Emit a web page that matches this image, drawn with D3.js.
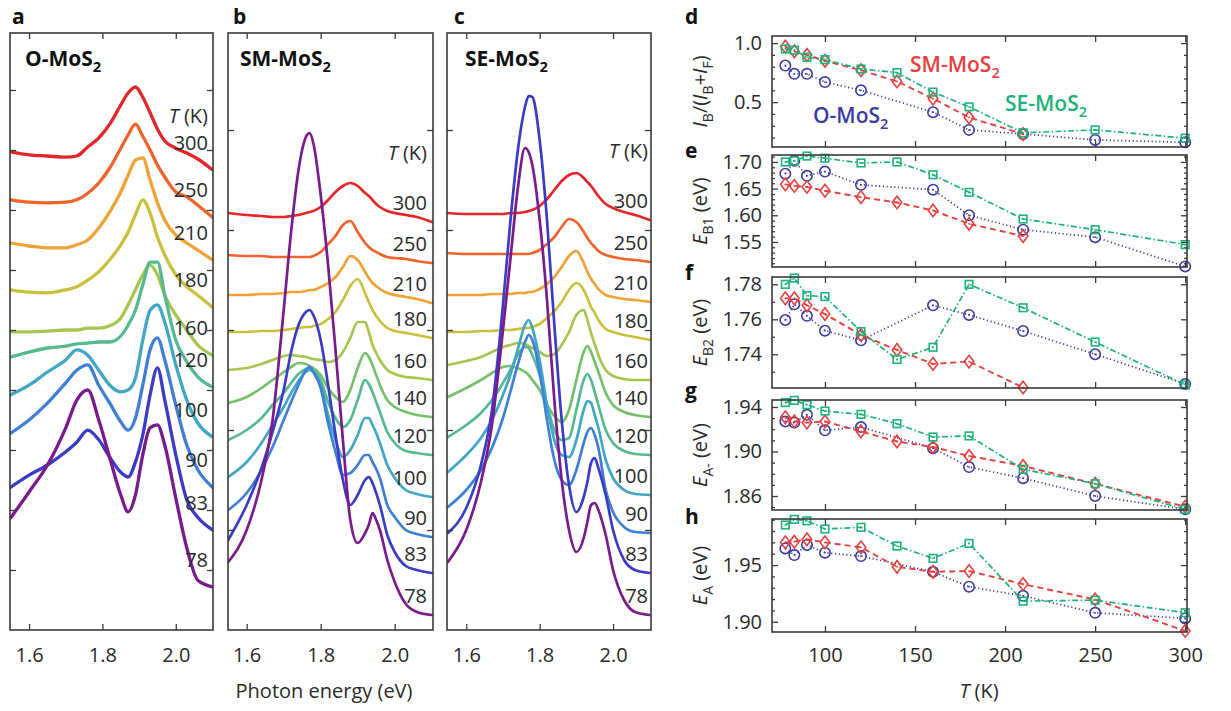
<!DOCTYPE html>
<html>
<head>
<meta charset="utf-8">
<script src="https://cdn.jsdelivr.net/npm/d3@7"></script>
<style>
  body { margin: 0; background: #fff; }
  svg { display: block; }
</style>
</head>
<body>
<svg id="fig" width="1231" height="711"></svg>
<script>
// ---------------- PL spectra (normalized, vertically offset) ----------------
const energyA = [1.55,1.60,1.65,1.70,1.73,1.76,1.79,1.82,1.85,1.87,1.89,1.91,1.93,1.95,1.97,2.00,2.03,2.06,2.10];
const tempsA = [300,250,210,180,160,120,100,90,83,78];
const spectraA = [
  [7.97,7.92,7.90,7.88,7.90,8.05,8.20,8.43,8.75,8.95,9.05,8.88,8.62,8.35,8.15,8.03,7.95,7.85,7.67],
  [7.17,7.13,7.12,7.13,7.17,7.28,7.45,7.70,8.03,8.25,8.43,8.23,8.00,7.75,7.55,7.30,7.22,7.08,6.88],
  [6.45,6.40,6.37,6.37,6.42,6.50,6.70,6.97,7.30,7.58,7.83,7.87,7.50,7.12,6.83,6.58,6.45,6.33,6.17],
  [5.67,5.63,5.62,5.67,5.72,5.83,5.97,6.17,6.42,6.63,6.92,7.17,6.95,6.55,6.25,5.92,5.72,5.58,5.38],
  [4.97,4.97,4.98,5.00,5.00,5.03,5.03,5.07,5.20,5.42,5.67,5.92,6.08,5.92,5.58,5.25,5.00,4.75,4.58],
  [4.55,4.63,4.70,4.73,4.77,4.78,4.80,4.80,4.90,5.08,5.33,5.75,6.13,6.13,5.58,4.83,4.47,4.22,4.05],
  [3.92,4.08,4.30,4.50,4.67,4.58,4.33,4.08,3.97,4.00,4.20,4.83,5.33,5.42,5.13,4.42,3.83,3.45,3.22],
  [3.28,3.50,3.78,4.12,4.33,4.42,4.08,3.78,3.47,3.33,3.53,4.08,4.67,4.87,4.50,3.75,3.08,2.67,2.38],
  [2.38,2.58,2.75,2.97,3.13,3.33,3.17,2.88,2.63,2.55,2.80,3.25,3.92,4.37,3.83,2.92,2.17,1.88,1.67],
  [1.87,2.30,2.75,3.37,3.83,4.00,3.50,2.87,2.25,1.97,2.25,2.92,3.37,3.42,3.08,2.20,1.37,0.83,0.72]
];

const energyBC = [1.55,1.60,1.64,1.67,1.70,1.72,1.74,1.76,1.77,1.78,1.80,1.82,1.84,1.86,1.88,1.90,1.92,1.93,1.94,1.95,1.96,1.98,2.00,2.03,2.06,2.10];
const tempsBC = [300,250,210,180,160,140,120,100,90,83,78];
const spectraB = [
  [4.17,4.15,4.14,4.13,4.13,4.14,4.15,4.17,4.18,4.19,4.23,4.30,4.38,4.44,4.47,4.44,4.37,4.34,4.30,4.26,4.23,4.19,4.17,4.15,4.13,4.08],
  [3.75,3.74,3.74,3.73,3.73,3.73,3.73,3.73,3.73,3.74,3.78,3.86,3.94,4.05,4.09,3.98,3.87,3.83,3.80,3.78,3.76,3.73,3.72,3.71,3.69,3.67],
  [3.35,3.35,3.36,3.36,3.37,3.38,3.38,3.39,3.40,3.40,3.43,3.47,3.53,3.63,3.74,3.70,3.58,3.52,3.47,3.44,3.41,3.37,3.35,3.33,3.31,3.27],
  [2.98,2.98,2.99,2.99,3.00,3.01,3.02,3.03,3.03,3.04,3.06,3.11,3.18,3.30,3.44,3.51,3.37,3.28,3.20,3.14,3.09,3.02,2.99,2.97,2.95,2.92],
  [2.60,2.62,2.66,2.70,2.74,2.75,2.74,2.73,2.72,2.71,2.70,2.68,2.70,2.78,2.92,3.08,3.08,2.98,2.85,2.77,2.70,2.60,2.56,2.53,2.52,2.50],
  [2.27,2.33,2.42,2.50,2.58,2.63,2.67,2.66,2.64,2.62,2.55,2.42,2.33,2.28,2.40,2.62,2.77,2.73,2.65,2.55,2.45,2.30,2.23,2.18,2.15,2.13],
  [1.90,2.00,2.12,2.25,2.37,2.47,2.56,2.61,2.62,2.60,2.50,2.28,2.12,2.03,2.10,2.30,2.50,2.46,2.38,2.28,2.18,1.98,1.87,1.79,1.77,1.75],
  [1.53,1.68,1.87,2.05,2.23,2.37,2.49,2.58,2.60,2.58,2.45,2.15,1.90,1.73,1.80,1.95,2.12,2.12,2.05,1.97,1.87,1.65,1.52,1.40,1.36,1.33],
  [1.20,1.37,1.60,1.83,2.10,2.28,2.45,2.60,2.63,2.58,2.42,2.07,1.78,1.55,1.57,1.65,1.75,1.75,1.68,1.61,1.52,1.25,1.13,1.00,0.96,0.93],
  [0.90,1.25,1.62,1.98,2.40,2.78,3.05,3.18,3.20,3.15,2.90,2.45,1.95,1.50,1.25,1.35,1.50,1.53,1.47,1.37,1.25,0.95,0.78,0.64,0.60,0.57],
  [0.68,1.00,1.50,2.10,3.20,3.98,4.60,4.93,4.97,4.87,4.35,3.65,2.80,1.90,1.10,0.87,0.97,1.05,1.17,1.10,1.00,0.70,0.48,0.26,0.18,0.15]
];
const spectraC = [
  [4.17,4.16,4.16,4.16,4.16,4.17,4.17,4.18,4.19,4.20,4.24,4.31,4.40,4.49,4.55,4.57,4.52,4.48,4.44,4.39,4.34,4.26,4.22,4.18,4.15,4.10],
  [3.77,3.76,3.76,3.76,3.76,3.76,3.76,3.76,3.76,3.77,3.80,3.86,3.93,4.03,4.11,4.08,3.98,3.92,3.87,3.83,3.79,3.75,3.73,3.71,3.70,3.68],
  [3.35,3.35,3.35,3.36,3.36,3.36,3.37,3.37,3.38,3.38,3.41,3.46,3.53,3.63,3.74,3.79,3.67,3.58,3.51,3.46,3.41,3.35,3.33,3.31,3.30,3.28],
  [2.98,2.98,2.99,2.99,3.00,3.00,3.01,3.02,3.02,3.03,3.06,3.12,3.19,3.28,3.40,3.47,3.40,3.32,3.23,3.17,3.10,3.01,2.98,2.95,2.93,2.90],
  [2.65,2.69,2.73,2.78,2.83,2.85,2.87,2.86,2.84,2.82,2.78,2.74,2.76,2.85,2.98,3.15,3.20,3.10,2.97,2.86,2.75,2.60,2.54,2.51,2.50,2.50],
  [2.33,2.42,2.50,2.57,2.63,2.64,2.62,2.58,2.55,2.50,2.40,2.25,2.14,2.08,2.20,2.50,2.78,2.84,2.78,2.68,2.58,2.37,2.25,2.18,2.15,2.13],
  [1.93,2.05,2.17,2.30,2.47,2.60,2.75,2.83,2.82,2.75,2.55,2.25,2.00,1.90,1.92,2.20,2.50,2.56,2.50,2.38,2.25,2.00,1.87,1.79,1.76,1.75],
  [1.58,1.75,1.92,2.10,2.35,2.55,2.80,3.05,3.10,3.02,2.70,2.25,1.90,1.75,1.73,1.90,2.20,2.29,2.27,2.15,2.02,1.70,1.52,1.40,1.36,1.35],
  [1.23,1.40,1.60,1.82,2.12,2.38,2.65,2.88,2.95,2.90,2.58,2.10,1.70,1.50,1.45,1.60,1.87,1.98,2.02,1.95,1.82,1.40,1.18,1.03,0.98,0.97],
  [0.97,1.22,1.65,2.20,3.25,4.08,4.78,5.23,5.34,5.33,4.90,4.10,3.05,2.10,1.45,1.18,1.33,1.48,1.67,1.72,1.62,1.35,1.00,0.70,0.60,0.57],
  [0.68,1.00,1.48,2.05,3.00,3.70,4.40,4.82,4.78,4.65,4.10,3.30,2.30,1.50,1.00,0.78,0.92,1.08,1.25,1.27,1.20,0.95,0.60,0.30,0.18,0.15]
];
const energyTicks = [1.6, 1.8, 2.0];

// ---------------- fitted parameters vs temperature ----------------
const tempsO  = [78, 83, 90, 100, 120, 160, 180, 210, 250, 300];
const tempsSM = [78, 83, 90, 100, 120, 140, 160, 180, 210, 250, 300];
const tempsSE = [78, 83, 90, 100, 120, 140, 160, 180, 210, 250, 300];

const ratioO  = [0.81, 0.74, 0.74, 0.67, 0.60, 0.415, 0.265, 0.23, 0.18, 0.16];
const ratioSM = [0.97, 0.93, 0.90, 0.85, 0.77, 0.675, 0.53, 0.37, 0.23, null, null];
const ratioSE = [0.95, 0.94, 0.88, 0.86, 0.78, 0.75, 0.585, 0.46, 0.24, 0.265, 0.195];

const eB1O  = [1.678, 1.702, 1.674, 1.682, 1.657, 1.648, 1.600, 1.573, 1.559, 1.504];
const eB1SM = [1.658, 1.655, 1.653, 1.646, 1.634, 1.624, 1.609, 1.584, 1.561, null, null];
const eB1SE = [1.700, 1.702, 1.711, 1.707, 1.698, 1.700, 1.676, 1.643, 1.593, 1.573, 1.545];

const eB2O  = [1.7596, 1.7686, 1.7620, 1.7535, 1.7480, 1.7680, 1.7625, 1.7533, 1.7400, 1.7230];
const eB2SM = [1.7720, 1.7720, 1.7680, 1.7630, 1.7510, 1.7425, 1.7345, 1.7358, 1.7210, null, null];
const eB2SE = [1.7800, 1.7836, 1.7735, 1.7730, 1.7530, 1.7370, 1.7440, 1.7800, 1.7666, 1.7470, 1.7225];

const eAmO  = [1.927, 1.926, 1.933, 1.919, 1.922, 1.903, 1.886, 1.876, 1.860, 1.848];
const eAmSM = [1.9307, 1.927, 1.926, 1.927, 1.918, 1.909, 1.904, 1.896, 1.887, 1.871, 1.8504];
const eAmSE = [1.944, 1.946, 1.942, 1.9364, 1.9334, 1.925, 1.913, 1.914, 1.884, 1.871, 1.848];

const eAO  = [1.9647, 1.9588, 1.9677, 1.9609, 1.9579, 1.9441, 1.9309, 1.9229, 1.9079, 1.9030];
const eASM = [1.9700, 1.9706, 1.9727, 1.9700, 1.9656, 1.9485, 1.9441, 1.9447, 1.9332, 1.9197, 1.8920];
const eASE = [1.9853, 1.9903, 1.9890, 1.9818, 1.9833, 1.9668, 1.9559, 1.9691, 1.9182, 1.9191, 1.9080];

const tTicks = [100, 150, 200, 250, 300];

// ---------------- styling ----------------
const FONT = '"Open Sans", "Liberation Sans", sans-serif';
const INK = '#2a2a2a';
const FRAME = '#3a3a3a';
const tempColor = {
  300: '#e2262b', 250: '#f0632b', 210: '#f0a236', 180: '#c9c13d', 160: '#a7c64f',
  140: '#76c06c', 120: '#57b990', 100: '#41a7c4', 90: '#3f7fd6', 83: '#3b3bc4', 78: '#7a1b8c'
};
const seriesStyle = {
  O:  { color: '#3b3ba5', dash: '1.2,2.6', width: 1.7, marker: 'circle' },
  SM: { color: '#e8403e', dash: '6,4', width: 1.9, marker: 'diamond' },
  SE: { color: '#1db27a', dash: '6,2.5,1.5,2.5', width: 1.7, marker: 'square' }
};

const svg = d3.select('#fig').attr('font-family', FONT);

function styleAxis(g) {
  g.select('.domain').remove();
  g.selectAll('.tick line').attr('stroke', FRAME).attr('stroke-width', 1.3);
  g.selectAll('.tick text').attr('fill', INK).attr('font-size', 20).attr('font-family', FONT);
  return g;
}

function addRich(sel, parts, size) {
  let pendingDy = 0;
  parts.forEach(p => {
    const ts = sel.append('tspan').text(p.t);
    if (p.it) ts.attr('font-style', 'italic');
    if (p.sub) {
      ts.attr('font-size', size * 0.7).attr('dy', pendingDy + size * 0.28);
      pendingDy = -size * 0.28;
    } else {
      if (pendingDy) ts.attr('dy', pendingDy);
      pendingDy = 0;
    }
  });
}

// ---------------- panels a-c ----------------
const specTop = 33, specBottom = 630;
const specPanels = [
  { letter: 'a', lx: 12, name: 'O-MoS', nx: 25, x0: 10, x1: 213, eDomain: [1.548, 2.1015], iMax: 9.95,
    energies: energyA, temps: tempsA, spectra: spectraA, lw: 3.3, labelX: 208, labelGap: 20, headGap: 27, yTicks: d3.range(1, 10) },
  { letter: 'b', lx: 233, name: 'SM-MoS', nx: 240, x0: 228, x1: 433, eDomain: [1.5495, 2.1035], iMax: 5.97,
    energies: energyBC, temps: tempsBC, spectra: spectraB, lw: 2.7, labelX: 427, labelGap: 12, headGap: 50, yTicks: [1, 2, 3, 4, 5] },
  { letter: 'c', lx: 454, name: 'SE-MoS', nx: 465, x0: 447, x1: 651, eDomain: [1.5475, 2.1034], iMax: 5.97,
    energies: energyBC, temps: tempsBC, spectra: spectraC, lw: 2.7, labelX: 648, labelGap: 12, headGap: 50, yTicks: [1, 2, 3, 4, 5] }
];

const defs = svg.append('defs');

specPanels.forEach(p => {
  const x = d3.scaleLinear().domain(p.eDomain).range([p.x0, p.x1]);
  const y = d3.scaleLinear().domain([0, p.iMax]).range([specBottom, specTop]);
  const g = svg.append('g');
  const clipId = 'clip-' + p.letter;
  defs.append('clipPath').attr('id', clipId).append('rect')
    .attr('x', p.x0).attr('y', specTop).attr('width', p.x1 - p.x0).attr('height', specBottom - specTop);

  const line = d3.line().x(d => x(d[0])).y(d => y(d[1])).curve(d3.curveMonotoneX);
  const curves = g.append('g').attr('clip-path', `url(#${clipId})`);
  p.temps.forEach((t, i) => {
    const pts = p.energies.map((e, j) => [e, p.spectra[i][j]]);
    curves.append('path').attr('d', line(pts)).attr('fill', 'none')
      .attr('stroke', tempColor[t]).attr('stroke-width', p.lw)
      .attr('stroke-linejoin', 'round').attr('stroke-linecap', 'round');
  });

  // temperature labels sit just above the right end of each trace
  p.temps.forEach((t, i) => {
    const last = p.spectra[i][p.spectra[i].length - 1];
    g.append('text').attr('x', p.labelX).attr('y', y(last) - p.labelGap)
      .attr('text-anchor', 'end').attr('font-size', 20).attr('fill', INK).text(t);
  });
  const topLast = p.spectra[0][p.spectra[0].length - 1];
  const head = g.append('text').attr('x', p.labelX).attr('y', y(topLast) - p.labelGap - p.headGap)
    .attr('text-anchor', 'end').attr('font-size', 20).attr('fill', INK);
  addRich(head, [{ t: 'T', it: true }, { t: ' (K)' }], 20);

  // axes with inward ticks
  styleAxis(g.append('g').attr('transform', `translate(0,${specBottom})`)
    .call(d3.axisBottom(x).tickValues(energyTicks).tickSizeInner(-6).tickSizeOuter(0).tickPadding(18).tickFormat(d3.format('.1f'))));
  styleAxis(g.append('g').attr('transform', `translate(0,${specTop})`)
    .call(d3.axisTop(x).tickValues(energyTicks).tickSizeInner(-6).tickSizeOuter(0).tickFormat('')));
  styleAxis(g.append('g').attr('transform', `translate(${p.x0},0)`)
    .call(d3.axisLeft(y).tickValues(p.yTicks).tickSizeInner(-6).tickSizeOuter(0).tickFormat('')));
  styleAxis(g.append('g').attr('transform', `translate(${p.x1},0)`)
    .call(d3.axisRight(y).tickValues(p.yTicks).tickSizeInner(-6).tickSizeOuter(0).tickFormat('')));

  g.append('rect').attr('x', p.x0).attr('y', specTop).attr('width', p.x1 - p.x0).attr('height', specBottom - specTop)
    .attr('fill', 'none').attr('stroke', FRAME).attr('stroke-width', 1.6);

  g.append('text').attr('x', p.lx).attr('y', 24).attr('font-size', 21).attr('font-weight', 700)
    .attr('fill', '#111').text(p.letter);
  const nm = g.append('text').attr('x', p.nx).attr('y', 66).attr('font-size', 21).attr('font-weight', 700).attr('fill', '#111');
  addRich(nm, [{ t: p.name }, { t: '2', sub: true }], 21);
});

svg.append('text').attr('x', 324).attr('y', 698).attr('text-anchor', 'middle')
  .attr('font-size', 20).attr('fill', INK).text('Photon energy (eV)');

// ---------------- panels d-h ----------------
const tx = d3.scaleLinear().domain([70.6, 301]).range([772, 1187]);
const rx0 = 772, rx1 = 1187;

function minorTicks(dom, step) {
  const out = [];
  for (let v = Math.ceil(dom[0] / step - 1e-9) * step; v <= dom[1] + 1e-9; v += step) out.push(+v.toFixed(4));
  return out;
}

const rightPanels = [
  { letter: 'd', ly: 24, top: 36, bottom: 147, dom: [0.12, 1.06], major: [0.5, 1.0], minorStep: 0.1, fmt: '.1f',
    O: ratioO, SM: ratioSM, SE: ratioSE,
    title: [{ t: 'I', it: true }, { t: 'B', sub: true }, { t: '/(' }, { t: 'I', it: true }, { t: 'B', sub: true },
            { t: '+' }, { t: 'I', it: true }, { t: 'F', sub: true }, { t: ')' }] },
  { letter: 'e', ly: 158, top: 155, bottom: 267, dom: [1.503, 1.713], major: [1.55, 1.60, 1.65, 1.70], minorStep: 0.01, fmt: '.2f',
    O: eB1O, SM: eB1SM, SE: eB1SE, title: [{ t: 'E', it: true }, { t: 'B1', sub: true }, { t: ' (eV)' }] },
  { letter: 'f', ly: 280, top: 277, bottom: 388, dom: [1.7207, 1.7842], major: [1.74, 1.76, 1.78], minorStep: 0.01, fmt: '.2f',
    O: eB2O, SM: eB2SM, SE: eB2SE, title: [{ t: 'E', it: true }, { t: 'B2', sub: true }, { t: ' (eV)' }] },
  { letter: 'g', ly: 398, top: 400, bottom: 510, dom: [1.8474, 1.9463], major: [1.86, 1.90, 1.94], minorStep: 0.01, fmt: '.2f',
    O: eAmO, SM: eAmSM, SE: eAmSE, title: [{ t: 'E', it: true }, { t: 'A-', sub: true }, { t: ' (eV)' }] },
  { letter: 'h', ly: 524, top: 519, bottom: 632, dom: [1.891, 1.9906], major: [1.90, 1.95], minorStep: 0.01, fmt: '.2f',
    O: eAO, SM: eASM, SE: eASE, title: [{ t: 'E', it: true }, { t: 'A', sub: true }, { t: ' (eV)' }] }
];

function drawMarker(g, kind, cx, cy, color) {
  if (kind === 'circle') {
    g.append('circle').attr('cx', cx).attr('cy', cy).attr('r', 5.2)
      .attr('fill', 'none').attr('stroke', color).attr('stroke-width', 1.6);
  } else if (kind === 'diamond') {
    g.append('path').attr('d', `M${cx},${cy - 6.3}L${cx + 4.8},${cy}L${cx},${cy + 6.3}L${cx - 4.8},${cy}Z`)
      .attr('fill', 'none').attr('stroke', color).attr('stroke-width', 1.6);
  } else {
    g.append('rect').attr('x', cx - 3.8).attr('y', cy - 3.8).attr('width', 7.6).attr('height', 7.6)
      .attr('fill', 'none').attr('stroke', color).attr('stroke-width', 1.6);
  }
  g.append('circle').attr('cx', cx).attr('cy', cy).attr('r', 0.9).attr('fill', color);
}

rightPanels.forEach((p, idx) => {
  const y = d3.scaleLinear().domain(p.dom).range([p.bottom, p.top]);
  const g = svg.append('g');
  const minors = minorTicks(p.dom, p.minorStep).filter(v => !p.major.some(m => Math.abs(m - v) < 1e-6));

  styleAxis(g.append('g').attr('transform', `translate(${rx0},0)`)
    .call(d3.axisLeft(y).tickValues(p.major).tickSizeInner(-6).tickSizeOuter(0).tickPadding(10).tickFormat(d3.format(p.fmt))));
  styleAxis(g.append('g').attr('transform', `translate(${rx0},0)`)
    .call(d3.axisLeft(y).tickValues(minors).tickSizeInner(-3).tickSizeOuter(0).tickFormat('')));
  styleAxis(g.append('g').attr('transform', `translate(${rx1},0)`)
    .call(d3.axisRight(y).tickValues(p.major).tickSizeInner(-6).tickSizeOuter(0).tickFormat('')));
  styleAxis(g.append('g').attr('transform', `translate(${rx1},0)`)
    .call(d3.axisRight(y).tickValues(minors).tickSizeInner(-3).tickSizeOuter(0).tickFormat('')));
  styleAxis(g.append('g').attr('transform', `translate(0,${p.top})`)
    .call(d3.axisTop(tx).tickValues(tTicks).tickSizeInner(-6).tickSizeOuter(0).tickFormat('')));
  const last = idx === rightPanels.length - 1;
  styleAxis(g.append('g').attr('transform', `translate(0,${p.bottom})`)
    .call(d3.axisBottom(tx).tickValues(tTicks).tickSizeInner(-6).tickSizeOuter(0).tickPadding(16)
      .tickFormat(last ? d3.format('d') : '')));

  const series = [['O', tempsO, p.O], ['SM', tempsSM, p.SM], ['SE', tempsSE, p.SE]];
  series.forEach(([key, temps, vals]) => {
    const st = seriesStyle[key];
    const pts = temps.map((t, i) => [t, vals[i]]).filter(d => d[1] != null);
    const line = d3.line().x(d => tx(d[0])).y(d => y(d[1]));
    g.append('path').attr('d', line(pts)).attr('fill', 'none')
      .attr('stroke', st.color).attr('stroke-width', st.width).attr('stroke-dasharray', st.dash);
    const mg = g.append('g');
    pts.forEach(d => drawMarker(mg, st.marker, tx(d[0]), y(d[1]), st.color));
  });

  g.append('rect').attr('x', rx0).attr('y', p.top).attr('width', rx1 - rx0).attr('height', p.bottom - p.top)
    .attr('fill', 'none').attr('stroke', FRAME).attr('stroke-width', 1.6);

  g.append('text').attr('x', 685).attr('y', p.ly).attr('font-size', 21).attr('font-weight', 700)
    .attr('fill', '#111').text(p.letter);

  const title = g.append('text').attr('text-anchor', 'middle').attr('font-size', 20).attr('fill', INK)
    .attr('transform', `translate(707,${(p.top + p.bottom) / 2}) rotate(-90)`);
  addRich(title, p.title, 20);
});

// sample names inside panel d
[
  { name: 'SM-MoS', x: 910, y: 72, color: seriesStyle.SM.color },
  { name: 'SE-MoS', x: 1005, y: 111, color: seriesStyle.SE.color },
  { name: 'O-MoS', x: 813, y: 123, color: seriesStyle.O.color }
].forEach(l => {
  const t = svg.append('text').attr('x', l.x).attr('y', l.y).attr('font-size', 21)
    .attr('font-weight', 600).attr('fill', l.color);
  addRich(t, [{ t: l.name }, { t: '2', sub: true }], 21);
});

const tlab = svg.append('text').attr('x', 979).attr('y', 698).attr('text-anchor', 'middle')
  .attr('font-size', 20).attr('fill', INK);
addRich(tlab, [{ t: 'T', it: true }, { t: ' (K)' }], 20);
</script>
</body>
</html>
